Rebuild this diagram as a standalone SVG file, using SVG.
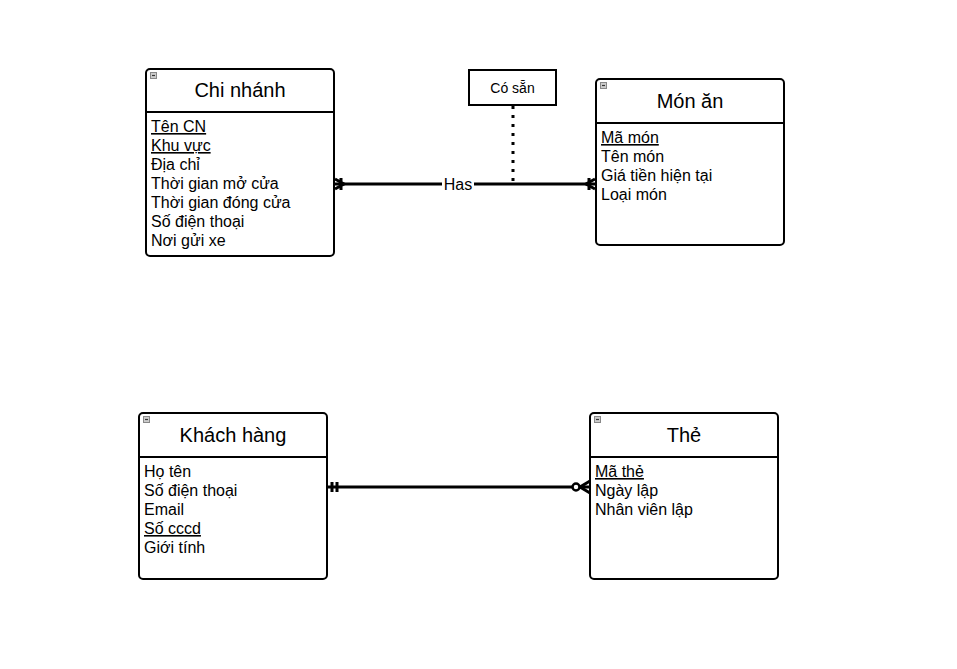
<svg xmlns="http://www.w3.org/2000/svg" width="957" height="669" viewBox="0 0 957 669">
<style>
.box{fill:#fff;stroke:#000;stroke-width:2}
.sep{stroke:#000;stroke-width:2}
.title{font-family:"Liberation Sans",Arial,sans-serif;font-size:20px;fill:#000;text-anchor:middle}
.attr{font-family:"Liberation Sans",Arial,sans-serif;font-size:16px;fill:#000}
.pk{text-decoration:underline}
.icon{fill:#ccc;stroke:#888;stroke-width:1}
.dash{stroke:#333;stroke-width:1.2}
.conn{stroke:#000;stroke-width:3;fill:none}
.end{stroke:#000;stroke-width:3;fill:none}
.lbl{font-family:"Liberation Sans",Arial,sans-serif;font-size:16px;fill:#000;text-anchor:middle}
</style>
<rect width="957" height="669" fill="#fff"/>
<g id="connectors">
<line class="conn" x1="334" y1="184" x2="596" y2="184"/>
<path class="end" d="M335,179 L344,184 L335,189 M341,178 V190"/>
<path class="end" d="M595,179 L586,184 L595,189 M589,178 V190"/>
<line x1="513" y1="106" x2="513" y2="184" stroke="#000" stroke-width="3" stroke-dasharray="3,6"/>
<rect x="442" y="175" width="32" height="18" fill="#fff"/>
<text class="lbl" x="458" y="190">Has</text>
<line class="conn" x1="327" y1="487" x2="590" y2="487"/>
<path class="end" d="M332,482 V492 M337,482 V492"/>
<path class="end" d="M590,481 L580,487 L590,493"/>
<circle cx="576" cy="487" r="3.5" fill="#fff" stroke="#000" stroke-width="2.5"/>
</g>
<g id="note-co-san">
<rect x="469" y="70" width="87" height="35" fill="#fff" stroke="#000" stroke-width="2"/>
<text class="lbl" x="512.5" y="93" style="font-size:14px">Có sẵn</text>
</g>
<g id="chi-nhanh">
<rect class="box" x="146" y="69" width="188" height="187" rx="4"/>
<line class="sep" x1="146" y1="112" x2="334" y2="112"/>
<rect class="icon" x="150.500" y="72.500" width="6" height="6"/><line class="dash" x1="152" y1="75.500" x2="155" y2="75.500"/>
<text class="title" x="240" y="97">Chi nhánh</text>
<text class="attr pk" x="151" y="132">Tên CN</text>
<text class="attr pk" x="151" y="151">Khu vực</text>
<text class="attr" x="151" y="170">Địa chỉ</text>
<text class="attr" x="151" y="189">Thời gian mở cửa</text>
<text class="attr" x="151" y="208">Thời gian đóng cửa</text>
<text class="attr" x="151" y="227">Số điện thoại</text>
<text class="attr" x="151" y="246">Nơi gửi xe</text>
</g>
<g id="mon-an">
<rect class="box" x="596" y="79" width="188" height="166" rx="4"/>
<line class="sep" x1="596" y1="123" x2="784" y2="123"/>
<rect class="icon" x="600.500" y="82.500" width="6" height="6"/><line class="dash" x1="602" y1="85.500" x2="605" y2="85.500"/>
<text class="title" x="690" y="108">Món ăn</text>
<text class="attr pk" x="601" y="143">Mã món</text>
<text class="attr" x="601" y="162">Tên món</text>
<text class="attr" x="601" y="181">Giá tiền hiện tại</text>
<text class="attr" x="601" y="200">Loại món</text>
</g>
<g id="khach-hang">
<rect class="box" x="139" y="413" width="188" height="166" rx="4"/>
<line class="sep" x1="139" y1="457" x2="327" y2="457"/>
<rect class="icon" x="143.500" y="416.500" width="6" height="6"/><line class="dash" x1="145" y1="419.500" x2="148" y2="419.500"/>
<text class="title" x="233" y="442">Khách hàng</text>
<text class="attr" x="144" y="477">Họ tên</text>
<text class="attr" x="144" y="496">Số điện thoại</text>
<text class="attr" x="144" y="515">Email</text>
<text class="attr pk" x="144" y="534">Số cccd</text>
<text class="attr" x="144" y="553">Giới tính</text>
</g>
<g id="the">
<rect class="box" x="590" y="413" width="188" height="166" rx="4"/>
<line class="sep" x1="590" y1="457" x2="778" y2="457"/>
<rect class="icon" x="594.500" y="416.500" width="6" height="6"/><line class="dash" x1="596" y1="419.500" x2="599" y2="419.500"/>
<text class="title" x="684" y="442">Thẻ</text>
<text class="attr pk" x="595" y="477">Mã thẻ</text>
<text class="attr" x="595" y="496">Ngày lập</text>
<text class="attr" x="595" y="515">Nhân viên lập</text>
</g>
</svg>
